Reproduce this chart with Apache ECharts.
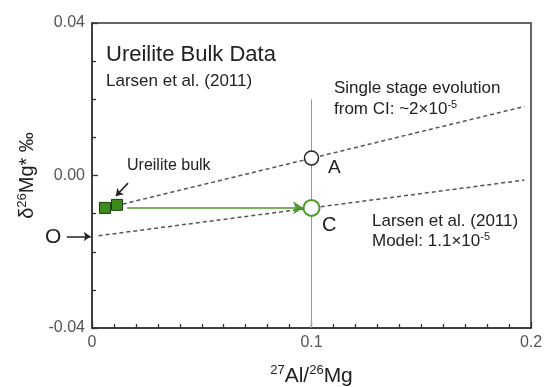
<!DOCTYPE html>
<html>
<head>
<meta charset="utf-8">
<script src="https://cdn.jsdelivr.net/npm/echarts@6/dist/echarts.min.js"></script>
<style>
  html, body { margin: 0; padding: 0; background: #fff; }
  #chart { width: 544px; height: 387px; }
</style>
</head>
<body>
<div id="chart"></div>
<script>
// Ureilite bulk Mg isotope data and evolution lines (x: 27Al/24Mg, y: δ26Mg*)
const bulkPoints = [[0.0059, -0.0085], [0.0114, -0.0077]];
const pointA = [[0.1, 0.0046]];
const pointC = [[0.1, -0.0085]];
const singleStageLine = [[0.014, -0.0075], [0.197, 0.0181]];
const modelLine = [[0.003, -0.0158], [0.197, -0.0012]];
const verticalRef = [[0.1, 0.02], [0.1, -0.04]];
const bulkToC = [[0.016, -0.0085], [0.0962, -0.0085]];
const initialO = [[-0.0115, -0.016], [-0.0006, -0.016]];
const bulkPointer = [[0.0164, -0.002], [0.0109, -0.0054]];

const xTicks = [0, 0.1, 0.2];
const yTicks = [-0.04, 0, 0.04];

const FONT = '"Liberation Sans", Arial, sans-serif';
const DARK = '#222';
const GREEN = '#4c9a2a';

const chart = echarts.init(document.getElementById('chart'));

function supRich(big, small) {
  return {
    m: { fontSize: big, lineHeight: big + 3, fontFamily: FONT, color: DARK },
    s: { fontSize: small, lineHeight: small + 1, fontFamily: FONT, color: DARK, verticalAlign: 'top' }
  };
}

function label(x, y, text, size, extra) {
  return Object.assign({
    type: 'text', x: x, y: y, z: 50,
    style: { text: text, fontSize: size, fontFamily: FONT, fill: DARK, verticalAlign: 'middle', align: 'left' }
  }, extra || {});
}

function richLabel(x, y, text, size, supSize) {
  return {
    type: 'text', x: x, y: y, z: 50,
    style: {
      text: text, fontSize: size, fontFamily: FONT, fill: DARK,
      verticalAlign: 'middle', align: 'left',
      rich: supRich(size, supSize)
    }
  };
}

const option = {
  animation: false,
  backgroundColor: '#fff',
  grid: {
    left: 92, right: 13, top: 23, bottom: 59,
    containLabel: false, outerBoundsMode: 'none',
    show: true, borderColor: '#333', borderWidth: 1.5, backgroundColor: 'transparent'
  },
  xAxis: {
    type: 'value', min: xTicks[0], max: xTicks[xTicks.length - 1], interval: 0.1,
    axisLine: { show: true, onZero: false, lineStyle: { color: '#333', width: 1.5 } },
    axisTick: { show: true, inside: true, length: 6, lineStyle: { color: '#333', width: 1.3 } },
    minorTick: { show: true, splitNumber: 10, length: 4, lineStyle: { color: '#333', width: 1.3 } },
    splitLine: { show: false },
    axisLabel: {
      fontSize: 16, fontFamily: FONT, color: '#555', margin: 7,
      formatter: v => (Math.abs(v) < 1e-9 ? '0' : v.toFixed(1))
    },
    name: '{s|27}{m|Al/}{s|26}{m|Mg}',
    nameLocation: 'middle', nameGap: 36,
    nameTextStyle: { rich: supRich(21, 13) }
  },
  yAxis: {
    type: 'value', min: yTicks[0], max: yTicks[yTicks.length - 1], interval: 0.04,
    axisLine: { show: true, onZero: false, lineStyle: { color: '#333', width: 1.5 } },
    axisTick: { show: true, inside: true, length: 6, lineStyle: { color: '#333', width: 1.3 } },
    minorTick: { show: true, splitNumber: 4, length: 4, lineStyle: { color: '#333', width: 1.3 } },
    splitLine: { show: false },
    axisLabel: {
      fontSize: 16, fontFamily: FONT, color: '#555', margin: 7,
      formatter: v => (Math.abs(v) < 1e-9 ? '0.00' : v.toFixed(2))
    },
    name: '{m|δ}{s|26}{m|Mg* ‰}',
    nameLocation: 'middle', nameGap: 53,
    nameTextStyle: { rich: supRich(20, 13) }
  },
  series: [
    {
      type: 'line', data: verticalRef, symbol: 'none', z: 1,
      lineStyle: { color: '#999', width: 1 }
    },
    {
      type: 'line', data: singleStageLine, symbol: 'none', z: 2,
      lineStyle: { color: '#555', width: 1.5, type: [4, 3] }
    },
    {
      type: 'line', data: modelLine, symbol: 'none', z: 2,
      lineStyle: { color: '#555', width: 1.5, type: [4, 3] }
    },
    {
      type: 'lines', coordinateSystem: 'cartesian2d', clip: false, z: 3,
      symbol: ['none', 'arrow'], symbolSize: [0, 10],
      lineStyle: { color: GREEN, width: 1.5, opacity: 1 },
      data: [{ coords: bulkToC }]
    },
    {
      type: 'lines', coordinateSystem: 'cartesian2d', clip: false, z: 3,
      symbol: ['none', 'arrow'], symbolSize: [0, 7],
      lineStyle: { color: DARK, width: 1.5, opacity: 1 },
      data: [{ coords: initialO }, { coords: bulkPointer }]
    },
    {
      type: 'scatter', data: bulkPoints, symbol: 'rect', symbolSize: 11, z: 5,
      itemStyle: { color: '#3d8b1e', borderColor: '#1a3d0a', borderWidth: 1, opacity: 1 }
    },
    {
      type: 'scatter', data: pointA, symbol: 'circle', symbolSize: 14, z: 5,
      itemStyle: { color: '#fff', borderColor: DARK, borderWidth: 1.5, opacity: 1 }
    },
    {
      type: 'scatter', data: pointC, symbol: 'circle', symbolSize: 16, z: 5,
      itemStyle: { color: '#fff', borderColor: GREEN, borderWidth: 2, opacity: 1 }
    }
  ],
  graphic: [
    label(106, 55, 'Ureilite Bulk Data', 22),
    label(106, 81, 'Larsen et al. (2011)', 17),
    label(127, 166, 'Ureilite bulk', 16),
    label(334, 88, 'Single stage evolution', 17),
    richLabel(334, 109, '{m|from CI: ~2×10}{s|-5}', 17, 11),
    label(328, 168, 'A', 19),
    label(322, 225, 'C', 20),
    label(372, 221, 'Larsen et al. (2011)', 17),
    richLabel(372, 241, '{m|Model: 1.1×10}{s|-5}', 17, 11),
    label(45, 237, 'O', 21)
  ]
};

chart.setOption(option);
</script>
</body>
</html>
